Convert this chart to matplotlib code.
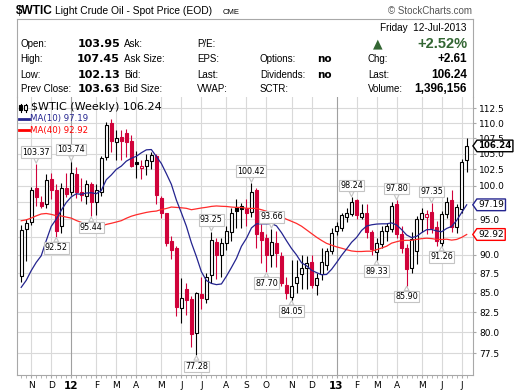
import matplotlib
matplotlib.use("Agg")
import matplotlib.pyplot as plt
import numpy as np
import pandas as pd
from matplotlib.patches import Rectangle
from matplotlib.path import Path
from matplotlib.lines import Line2D
from matplotlib.ticker import FixedLocator, FixedFormatter, NullLocator

# closes of the 39 weeks before the first bar (they only feed the moving averages)
prior_closes = [89.34, 89.03, 85.58, 86.20, 97.88, 104.42, 101.16, 101.07, 105.40,
                107.94, 112.79, 109.66, 112.29, 113.93, 97.18, 99.65, 99.49, 100.59,
                100.22, 99.29, 93.01, 91.16, 94.94, 96.20, 97.24, 99.87, 95.70, 86.88,
                85.38, 82.26, 85.37, 86.45, 87.24, 87.96, 79.85, 79.20, 82.98, 86.80, 87.40]

# weekly bars, weeks ending 28-Oct-2011 .. 12-Jul-2013
week_end = pd.date_range("2011-10-28", "2013-07-12", freq="7D")

opens = [87.2, 93.6, 94.6, 99.6, 97.6, 97.2, 101.0, 99.4, 94.0, 99.7,
         99.1, 101.8, 99.1, 98.4, 100.3, 97.5, 99.1, 104.5, 110.0, 106.8,
         107.7, 108.4, 107.0, 103.6, 102.7, 103.1, 103.9, 104.6, 98.1, 95.9,
         91.9, 91.0, 83.0, 85.4, 84.2, 79.9, 84.8, 84.2, 87.3, 91.8,
         90.0, 91.6, 93.2, 96.8, 96.9, 96.6, 96.1, 99.3, 93.2, 92.3,
         90.0, 91.7, 89.9, 86.0, 84.4, 86.2, 87.4, 88.3, 89.0, 86.0,
         87.4, 88.7, 90.5, 93.3, 93.7, 95.3, 95.8, 97.8, 95.4, 96.0,
         93.2, 90.4, 91.5, 93.3, 93.6, 97.3, 92.9, 91.0, 88.2, 90.5,
         95.0, 95.3, 96.1, 93.9, 91.6, 95.8, 97.9, 93.9, 96.5, 103.95]
highs = [94.2, 95.0, 99.8, 103.37, 98.5, 101.8, 101.9, 100.2, 100.4, 101.9,
         103.74, 102.9, 101.2, 100.8, 100.6, 100.3, 104.6, 110.2, 110.6, 108.8,
         108.8, 109.0, 108.0, 105.5, 104.0, 105.0, 105.3, 105.0, 98.4, 96.0,
         92.7, 91.2, 86.9, 86.2, 84.6, 85.1, 87.0, 87.6, 93.25, 92.4,
         92.3, 94.0, 96.6, 98.0, 97.4, 98.0, 100.42, 99.6, 94.4, 92.9,
         93.66, 93.4, 90.4, 87.0, 89.3, 89.3, 90.0, 89.8, 90.0, 87.6,
         91.0, 91.0, 93.8, 94.6, 96.0, 96.6, 98.24, 98.0, 97.2, 97.3,
         93.5, 92.3, 94.0, 94.5, 97.5, 97.80, 94.0, 91.5, 93.2, 95.5,
         96.6, 96.4, 97.35, 94.8, 96.2, 98.3, 99.4, 97.3, 104.2, 107.45]
lows = [86.4, 89.2, 94.2, 97.0, 96.6, 96.6, 98.0, 92.52, 93.1, 98.3,
        98.6, 98.2, 97.7, 97.3, 95.44, 95.6, 98.5, 104.0, 105.2, 104.0,
        104.0, 104.5, 102.9, 101.2, 101.0, 101.6, 102.5, 97.3, 95.2, 91.2,
        89.5, 82.0, 81.2, 82.1, 78.2, 77.28, 82.9, 83.6, 86.3, 86.8,
        87.0, 90.7, 92.0, 93.8, 93.8, 94.0, 95.3, 91.0, 88.9, 87.70,
        88.4, 88.4, 85.9, 84.2, 84.05, 84.9, 85.4, 85.5, 85.6, 84.7,
        86.6, 88.0, 90.2, 92.8, 93.4, 94.6, 95.5, 95.0, 95.0, 92.4,
        90.0, 89.33, 91.0, 91.9, 93.2, 92.4, 90.3, 85.90, 87.6, 88.8,
        93.2, 92.9, 93.0, 91.3, 91.26, 95.2, 93.2, 93.1, 95.9, 102.13]
closes = [93.5, 94.5, 99.4, 98.3, 97.0, 100.8, 99.4, 93.3, 99.7, 98.8,
          102.0, 99.1, 98.6, 100.2, 97.5, 99.3, 104.3, 109.7, 107.0, 107.5,
          107.1, 106.9, 103.1, 103.4, 103.1, 104.0, 104.8, 98.6, 95.9, 91.6,
          90.7, 83.2, 84.3, 84.0, 79.8, 84.9, 84.3, 87.0, 92.1, 90.0,
          91.6, 93.4, 95.9, 96.3, 96.5, 96.0, 99.0, 92.9, 92.1, 90.0,
          91.8, 90.3, 86.2, 84.9, 85.8, 87.1, 88.3, 88.9, 86.0, 86.9,
          89.0, 90.6, 93.0, 94.0, 95.6, 95.9, 97.6, 95.7, 95.9, 93.2,
          90.8, 91.6, 93.4, 94.0, 96.9, 92.9, 91.0, 88.1, 92.2, 95.0,
          96.0, 95.8, 93.7, 91.9, 95.8, 97.6, 93.9, 96.8, 103.63, 106.24]

# bars whose high / low carries a price callout
high_callouts = [3, 10, 38, 46, 50, 66, 75, 82]
low_callouts = [7, 14, 35, 49, 54, 71, 77, 84]

y_ticks = [77.5, 80.0, 82.5, 85.0, 87.5, 90.0, 92.5, 95.0, 97.5, 100.0,
           102.5, 105.0, 107.5, 110.0, 112.5]

ma_text = ["97.19", "92.92"]
last_text = "106.24"

# header table
left_labels = ["Open:", "High:", "Low:", "Prev Close:"]
left_values = ["103.95", "107.45", "102.13", "103.63"]
mid_labels = ["Ask:", "Ask Size:", "Bid:", "Bid Size:"]
mid2_labels = ["P/E:", "EPS:", "Last:", "VWAP:"]
opt_labels = ["Options:", "Dividends:", "SCTR:"]
opt_values = ["no", "no", ""]
chg_labels = ["Chg:", "Last:", "Volume:"]
chg_values = ["+2.61", "106.24", "1,396,156"]
pct_change = "+2.52%"
date_text = "Friday  12-Jul-2013"

RED = "#d0023a"
NAVY = "#24248f"
MA40C = "#ff2b2b"
GREEN = "#336633"
GRID = "#d9d9d9"
EDGE = "#a8a8a8"

W, H = 520, 391
def fx(px):
    return px / W
def fy(py):
    return 1 - py / H

plt.rcParams["font.family"] = "DejaVu Sans"
fig = plt.figure(figsize=(5.2, 3.91), dpi=100)
AX_L, AX_R, AX_T, AX_B = 16.5, 472.7, 97, 375
ax = fig.add_axes([fx(AX_L), fy(AX_B), (AX_R - AX_L) / W, (AX_B - AX_T) / H])

def afx(px):
    return (px - AX_L) / (AX_R - AX_L)
def afy(py):
    return (AX_B - py) / (AX_B - AX_T)

# moving averages
all_c = pd.Series(prior_closes + closes)
ma10 = all_c.rolling(10).mean().iloc[len(prior_closes):].values
ma40 = all_c.rolling(40).mean().iloc[len(prior_closes):].values

x = np.arange(len(closes))
ax.set_yscale("log")
ax.set_ylim(74.98, 114.45)
ax.set_xlim(-0.94, 90.2)

# month grid lines (first week whose Monday is in a new month)
mondays = week_end - pd.Timedelta(days=4)
month_idx, month_lab = [], []
for i in range(1, len(mondays)):
    if mondays[i].month != mondays[i - 1].month:
        month_idx.append(i)
        m = mondays[i].month
        month_lab.append(f"{mondays[i].year % 100}" if m == 1 else "JFMAMJJASOND"[m - 1])
for i, lab in zip(month_idx, month_lab):
    ax.axvline(i, color="#a0a0a0" if lab.isdigit() else GRID, lw=0.8, zorder=0.6)

# tick labels hidden under the MA value tags in the reference
tag_vals = [ma10[-1], ma40[-1]]
y_labels = []
for t in y_ticks:
    hidden = any(abs(np.log(t / v)) < 0.008 for v in tag_vals)
    y_labels.append("" if hidden else f"{t:.1f}")

ax.yaxis.set_major_locator(FixedLocator(y_ticks))
ax.yaxis.set_major_formatter(FixedFormatter(y_labels))
ax.yaxis.set_minor_locator(NullLocator())
ax.yaxis.tick_right()
ax.yaxis.grid(True, color=GRID, lw=0.8)
ax.set_axisbelow(True)
ax.tick_params(axis="y", which="major", length=2.5, pad=2, labelsize=6.5,
               color=EDGE, labelcolor="black")

ax.set_xticks(month_idx)
ax.set_xticklabels(month_lab)
ax.xaxis.set_minor_locator(FixedLocator(x))
ax.tick_params(axis="x", which="major", length=2.5, pad=1.5, labelsize=6.5, color=EDGE)
ax.tick_params(axis="x", which="minor", length=2, color=EDGE)
for t in ax.get_xticklabels():
    if t.get_text().isdigit():
        t.set_fontweight("bold")
        t.set_fontsize(7.5)

for s in ["left", "right", "bottom"]:
    ax.spines[s].set_color(EDGE)
    ax.spines[s].set_linewidth(0.8)
ax.spines["top"].set_visible(False)

# candles
prev = [prior_closes[-1]] + closes[:-1]
for i in range(len(closes)):
    o, h, l, c = opens[i], highs[i], lows[i], closes[i]
    col = RED if c < prev[i] else "black"
    hollow = c >= o
    ax.vlines(i, l, h, color=col, lw=0.8, zorder=2)
    lo, hi = min(o, c), max(o, c)
    if hi - lo < 0.08:
        hi = lo + 0.08
    ax.add_patch(Rectangle((i - 0.3, lo), 0.6, hi - lo, facecolor="white" if hollow else col,
                           edgecolor=col, lw=0.8, zorder=3))

ax.plot(x, ma40, color=MA40C, lw=0.9, zorder=4)
ax.plot(x, ma10, color=NAVY, lw=0.9, zorder=4)

# price callouts
box = dict(boxstyle="square,pad=0.15", fc="white", ec="#c4c4c4", lw=0.8)
arrow = dict(arrowstyle="wedge,tail_width=0.6,shrink_factor=0.5", fc="white",
             ec="#c4c4c4", lw=0.8, shrinkA=0, shrinkB=0.5)
for i in high_callouts:
    ax.annotate(f"{highs[i]:.2f}", xy=(i, highs[i]), xytext=(0, 8.5),
                textcoords="offset points", ha="center", va="center", fontsize=5.8,
                bbox=box, arrowprops=arrow, zorder=6)
for i in low_callouts:
    ax.annotate(f"{lows[i]:.2f}", xy=(i, lows[i]), xytext=(0, -8),
                textcoords="offset points", ha="center", va="center", fontsize=5.8,
                bbox=box, arrowprops=arrow, zorder=6)

# value tags on the right axis
def tag_shape(x0, y0, width, height, mutation_size):
    pad = 0.15 * mutation_size
    x0, y0 = x0 - pad, y0 - pad
    x1, y1 = x0 + width + 2 * pad, y0 + height + 2 * pad
    ym = (y0 + y1) / 2
    tip = (y1 - y0) * 0.35
    verts = [(x0 - tip, ym), (x0, y0), (x1, y0), (x1, y1), (x0, y1), (x0 - tip, ym)]
    return Path(verts, closed=True)

tags = [(closes[-1], last_text, "black", True),
        (ma10[-1], ma_text[0], NAVY, False),
        (ma40[-1], ma_text[1], "red", False)]
for val, txt, col, bold in tags:
    ax.annotate(txt, xy=(1.0, val), xycoords=("axes fraction", "data"), xytext=(4, 0),
                textcoords="offset points", ha="left", va="center",
                fontsize=6.2 if bold else 6.5, fontweight="bold" if bold else "normal",
                color="black", annotation_clip=False, zorder=7,
                bbox=dict(boxstyle=tag_shape, fc="white", ec=col, lw=1.0))

# legend
ax.text(afx(31), afy(107.5), f"$WTIC (Weekly) {last_text}", transform=ax.transAxes,
        fontsize=8, va="center", ha="left", zorder=8)
for cx, filled in [(20.5, True), (25.5, False)]:
    ax.add_line(Line2D([afx(cx)] * 2, [afy(103.5), afy(111.5)], color="black", lw=0.8,
                       transform=ax.transAxes, zorder=8))
    ax.add_patch(Rectangle((afx(cx - 1.3), afy(110)), afx(cx + 1.3) - afx(cx - 1.3),
                           afy(105) - afy(110), transform=ax.transAxes,
                           facecolor="black" if filled else "white", edgecolor="black",
                           lw=0.8, zorder=8))
for py, col, txt in [(119, NAVY, f"MA(10) {ma_text[0]}"), (130, "red", f"MA(40) {ma_text[1]}")]:
    ax.add_line(Line2D([afx(19), afx(29)], [afy(py)] * 2, color=col, lw=2,
                       transform=ax.transAxes, zorder=8))
    ax.text(afx(30), afy(py), txt, transform=ax.transAxes, fontsize=6.2, color=col,
            va="center", ha="left", zorder=8)

# header box
for xs, ys in [([AX_L, AX_L], [19, AX_T]), ([AX_L, AX_R], [19, 19]), ([AX_R, AX_R], [19, AX_T])]:
    fig.add_artist(Line2D([fx(v) for v in xs], [fy(v) for v in ys], color=EDGE, lw=0.8,
                          transform=fig.transFigure))

HF = "Liberation Sans"
fig.text(fx(16), fy(11), "$WTIC", fontsize=8.6, fontweight="bold", family=HF, va="center")
fig.text(fx(55), fy(11.5), "Light Crude Oil - Spot Price (EOD)", fontsize=7.4, family=HF,
         va="center")
fig.text(fx(223), fy(12), "CME", fontsize=5.5, family=HF, va="center")
fig.text(fx(472), fy(11), "\u00a9 StockCharts.com", fontsize=7, family=HF, color="#555555",
         va="center", ha="right")

fig.text(fx(467), fy(28), date_text, fontsize=7.2, family=HF, va="center", ha="right")
fig.text(fx(378), fy(44), "\u25b2", fontsize=9, color=GREEN, va="center", ha="center")
fig.text(fx(467), fy(44), pct_change, fontsize=10.5, fontweight="bold", family=HF,
         color=GREEN, va="center", ha="right")

rows = [44, 59.5, 74.5, 89]
for r in range(4):
    y = fy(rows[r])
    fig.text(fx(20.7), y, left_labels[r], fontsize=7, family=HF, va="center")
    fig.text(fx(120), y, left_values[r], fontsize=8, fontweight="bold", va="center", ha="right")
    fig.text(fx(124), y, mid_labels[r], fontsize=7, family=HF, va="center")
    fig.text(fx(197), y, mid2_labels[r], fontsize=7, family=HF, va="center")
for r in range(3):
    y = fy(rows[r + 1])
    fig.text(fx(260), y, opt_labels[r], fontsize=7, family=HF, va="center")
    fig.text(fx(317), y, opt_values[r], fontsize=7.5, fontweight="bold", va="center")
    fig.text(fx(368), y, chg_labels[r], fontsize=7, family=HF, va="center")
    fig.text(fx(467), y, chg_values[r], fontsize=8.5, fontweight="bold", family=HF,
             va="center", ha="right")

fig.savefig("out.png", dpi=100)
